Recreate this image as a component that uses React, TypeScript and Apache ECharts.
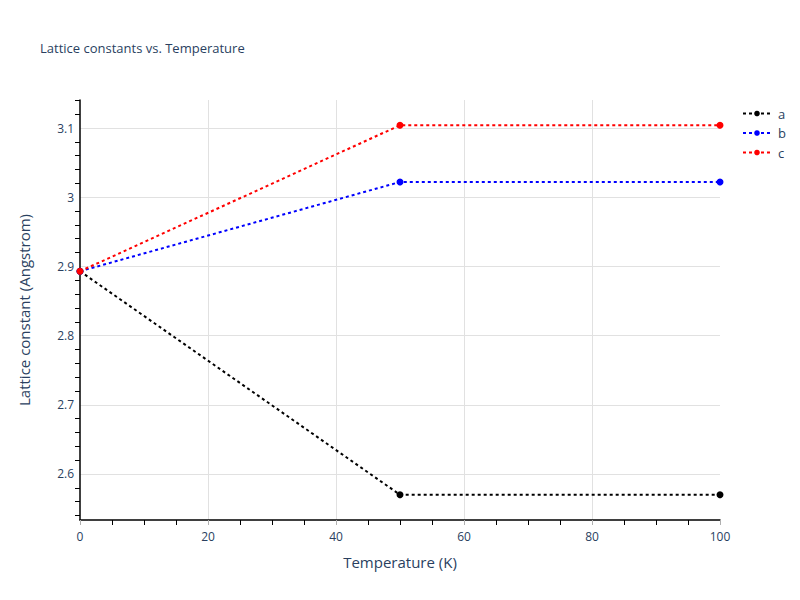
import React, { useEffect, useRef } from "react";
import * as echarts from "echarts";

const temperatures = [0, 50, 100];
const seriesA = [2.893, 2.570, 2.570];
const seriesB = [2.893, 3.022, 3.022];
const seriesC = [2.893, 3.104, 3.104];
const seriesNames = ["a", "b", "c"];
const seriesColors = ["#000000", "#0000ff", "#ff0000"];
const yMinorTicks = [
  2.54, 2.56, 2.58, 2.62, 2.64, 2.66, 2.68, 2.72, 2.74, 2.76, 2.78, 2.82, 2.84, 2.86, 2.88,
  2.92, 2.94, 2.96, 2.98, 3.02, 3.04, 3.06, 3.08, 3.12, 3.14,
];
const yRange = [2.5335, 3.1405];
const xRange = [0, 100];

const textColor = "#2a3f5f";

export default function App() {
  const ref = useRef<HTMLDivElement>(null);
  useEffect(() => {
    if (!ref.current) return;
    const chart = echarts.init(ref.current, null, { renderer: "svg" });
    const allSeries = [seriesA, seriesB, seriesC];
    chart.setOption({
      animation: false,
      backgroundColor: "#ffffff",
      textStyle: { fontFamily: "Open Sans, Verdana, Arial, sans-serif" },
      title: {
        text: "Lattice constants vs. Temperature",
        left: 35,
        top: 36,
        textStyle: { fontSize: 13, fontWeight: "normal", color: textColor },
      },
      legend: {
        orient: "vertical",
        left: 737,
        top: 102,
        itemWidth: 28,
        itemHeight: 7,
        itemGap: 6.5,
        textStyle: { fontSize: 13, color: textColor, padding: [0, 0, 0, 2] },
        data: seriesNames,
      },
      grid: { left: 80, right: 80, top: 100, bottom: 80, containLabel: false },
      xAxis: {
        type: "value",
        min: xRange[0],
        max: xRange[1],
        interval: 20,
        name: "Temperature (K)",
        nameLocation: "middle",
        nameGap: 34,
        nameTextStyle: { fontSize: 15, color: textColor },
        axisLine: { show: true, lineStyle: { color: "#000000", width: 1.5 } },
        axisTick: { show: true, length: 5, lineStyle: { color: "#b0b0b0" } },
        minorTick: { show: true, splitNumber: 4, length: 5, lineStyle: { color: "#000000" } },
        axisLabel: { fontSize: 12, color: textColor, margin: 10 },
        splitLine: { show: true, showMinLine: false, showMaxLine: false, lineStyle: { color: "#e1e1e1", width: 1 } },
      },
      yAxis: [
        {
          type: "value",
          min: yRange[0],
          max: yRange[1],
          splitNumber: 5,
          name: "Lattice constant (Angstrom)",
          nameLocation: "middle",
          nameGap: 49,
          nameTextStyle: { fontSize: 15, color: textColor },
          axisLine: { show: true, lineStyle: { color: "#000000", width: 1.5 } },
          axisTick: { show: false },
          axisLabel: { fontSize: 12, color: textColor, margin: 6, showMinLabel: false, showMaxLabel: false },
          splitLine: { show: true, showMinLine: false, showMaxLine: false, lineStyle: { color: "#e1e1e1", width: 1 } },
        },
        {
          type: "value",
          min: yRange[0],
          max: yRange[1],
          position: "left",
          axisLine: { show: false },
          axisTick: { show: true, length: 5, customValues: yMinorTicks, lineStyle: { color: "#000000" } },
          axisLabel: { show: false },
          splitLine: { show: false },
        },
      ],
      series: allSeries.map((vals, i) => ({
        name: seriesNames[i],
        type: "line",
        yAxisIndex: 0,
        data: temperatures.map((t, j) => [t, vals[j]]),
        symbol: "circle",
        symbolSize: 7,
        itemStyle: { color: seriesColors[i] },
        lineStyle: { color: seriesColors[i], width: 2, type: [3, 3] },
        z: 3 + i,
      })),
    });
    return () => chart.dispose();
  }, []);
  return <div ref={ref} style={{ width: 800, height: 600, margin: -8 }} />;
}
